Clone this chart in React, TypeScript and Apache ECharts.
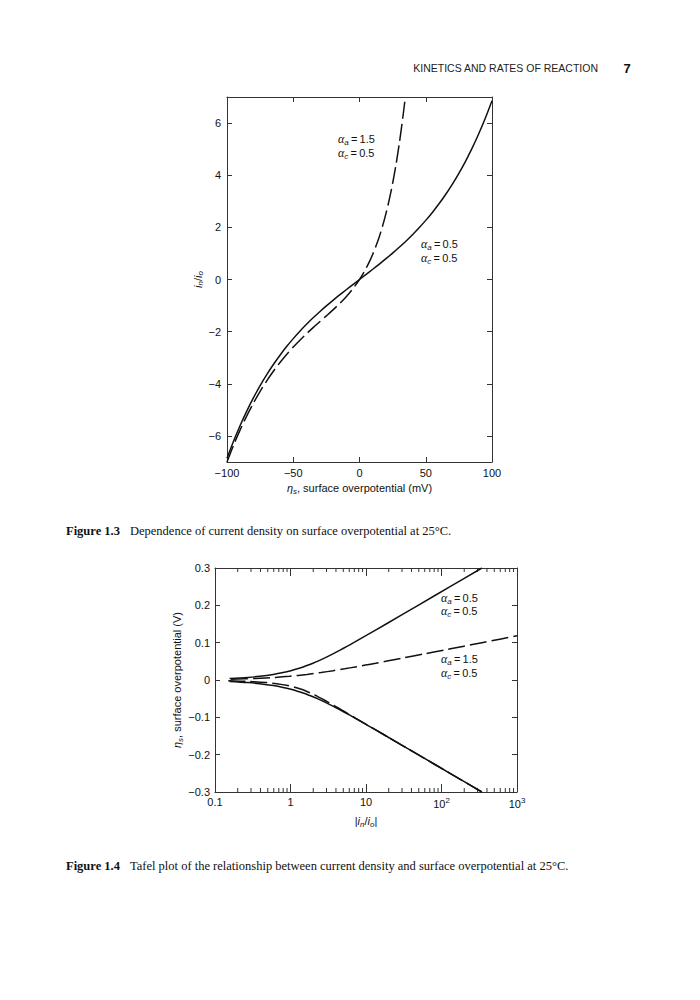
import React, { useEffect, useRef } from "react";
import * as echarts from "echarts";

// ---------- Figure 1.3 data ----------
const etaSym = [-100, -95, -90, -85, -80, -75, -70, -65, -60, -55, -50, -45, -40, -35, -30, -25, -20, -15, -10, -5, 0, 5, 10, 15, 20, 25, 30, 35, 40, 45, 50, 55, 60, 65, 70, 75, 80, 85, 90, 95, 100];
const curSym = [-6.858, -6.194, -5.59, -5.037, -4.533, -4.071, -3.649, -3.261, -2.903, -2.573, -2.268, -1.984, -1.719, -1.47, -1.235, -1.012, -0.798, -0.592, -0.392, -0.195, 0, 0.195, 0.392, 0.592, 0.798, 1.012, 1.235, 1.47, 1.719, 1.984, 2.268, 2.573, 2.903, 3.261, 3.649, 4.071, 4.533, 5.037, 5.59, 6.194, 6.858];
const etaAsym = [-100, -95, -90, -85, -80, -75, -70, -65, -60, -55, -50, -45, -40, -35, -30, -25, -20, -15, -10, -5, 0, 2.5, 5, 7.5, 10, 12.5, 15, 17.5, 20, 22.5, 25, 27.5, 30, 32, 33, 34.6];
const curAsym = [-6.998, -6.348, -5.758, -5.222, -4.735, -4.291, -3.888, -3.52, -3.184, -2.876, -2.592, -2.328, -2.081, -1.846, -1.619, -1.394, -1.165, -0.922, -0.657, -0.355, 0, 0.205, 0.432, 0.685, 0.97, 1.291, 1.653, 2.066, 2.537, 3.074, 3.689, 4.395, 5.205, 5.94, 6.339, 7.0];
const yTicks1 = [-6, -4, -2, 0, 2, 4, 6];

// ---------- Figure 1.4 data ----------
const tafelSymX = [0.156, 0.273, 0.392, 0.592, 0.798, 1.012, 1.235, 1.47, 1.719, 1.984, 2.268, 2.903, 3.649, 4.533, 5.59, 6.858, 10.23, 18.47, 48.98, 129.7, 343.3];
const tafelSymEtaUp = [0.004, 0.007, 0.01, 0.015, 0.02, 0.025, 0.03, 0.035, 0.04, 0.045, 0.05, 0.06, 0.07, 0.08, 0.09, 0.1, 0.12, 0.15, 0.2, 0.25, 0.3];
const tafelSymEtaDown = [-0.004, -0.007, -0.01, -0.015, -0.02, -0.025, -0.03, -0.035, -0.04, -0.045, -0.05, -0.06, -0.07, -0.08, -0.09, -0.1, -0.12, -0.15, -0.2, -0.25, -0.3];
const tafelAsymUpX = [0.162, 0.338, 0.632, 0.97, 1.653, 2.537, 3.689, 5.205, 7.21, 9.87, 13.42, 18.14, 32.9, 59.27, 106.5, 191.2, 343.2, 615.2, 1000];
const tafelAsymUpEta = [0.002, 0.004, 0.007, 0.01, 0.015, 0.02, 0.025, 0.03, 0.035, 0.04, 0.045, 0.05, 0.06, 0.07, 0.08, 0.09, 0.1, 0.11, 0.1183];
const tafelAsymDownX = [0.15, 0.289, 0.481, 0.657, 0.922, 1.165, 1.394, 1.619, 1.846, 2.081, 2.328, 2.592, 3.184, 3.888, 4.735, 5.758, 6.998, 10.33, 18.52, 49.0, 129.7, 343.3];
const tafelAsymDownEta = [-0.002, -0.004, -0.007, -0.01, -0.015, -0.02, -0.025, -0.03, -0.035, -0.04, -0.045, -0.05, -0.06, -0.07, -0.08, -0.09, -0.1, -0.12, -0.15, -0.2, -0.25, -0.3];
const yTicks2 = [-0.3, -0.2, -0.1, 0, 0.1, 0.2, 0.3];
const logLabels = ["0.1", "1", "10", "10{sup|2}", "10{sup|3}"];
const minorTicks = [0.2, 0.3, 0.4, 0.5, 0.6, 0.7, 0.8, 0.9, 2, 3, 4, 5, 6, 7, 8, 9, 20, 30, 40, 50, 60, 70, 80, 90, 200, 300, 400, 500, 600, 700, 800, 900];

const SANS = "'Liberation Sans', Arial, sans-serif";
const SERIF = "'Liberation Serif', 'Times New Roman', serif";
const AX = "#333";
const INK = "#111";

const pairs = (xs: number[], ys: number[]) => xs.map((x, i) => [x, ys[i]]);
const minus = (v: number) => {
  const s = String(Math.round(v * 10) / 10);
  return s.replace("-", "\u2212");
};

const richName = {
  i: { fontStyle: "italic", fontSize: 11, fontFamily: SANS, color: INK },
  sub: { fontStyle: "italic", fontSize: 8, fontFamily: SANS, color: INK, padding: [6, 0, 0, 0] },
  t: { fontSize: 11, fontFamily: SANS, color: INK },
};

const annot = (x: number, y: number, sub: string, val: string) => ({
  type: "text",
  x,
  y,
  style: {
    text: `{a|α}{s|${sub}}{t|\u2009=\u2009${val}}`,
    textVerticalAlign: "middle",
    rich: {
      a: { fontStyle: "italic", fontSize: 12, fontFamily: SERIF, fill: INK },
      s: { fontStyle: "italic", fontSize: 8, fontFamily: SANS, fill: INK, padding: [6, 0, 0, 0] },
      t: { fontSize: 11, fontFamily: SANS, fill: INK },
    },
  },
});

const lineSeries = (xi: number, data: number[][], dashed: boolean) => ({
  type: "line",
  xAxisIndex: xi,
  yAxisIndex: xi,
  data,
  smooth: 0.3,
  showSymbol: false,
  symbol: "none",
  lineStyle: dashed ? { color: INK, width: 1.5, type: [17, 5] } : { color: INK, width: 1.5 },
});

export default function App() {
  const ref = useRef<HTMLDivElement>(null);
  useEffect(() => {
    if (!ref.current) return;
    const chart = echarts.init(ref.current, null, { renderer: "svg" });
    const axisLine = { show: true, onZero: false, lineStyle: { color: AX, width: 1 } };
    const labelStyle = { color: INK, fontFamily: SANS, fontSize: 11 };
    chart.setOption({
      animation: false,
      backgroundColor: "#fff",
      grid: [
        { left: 227, top: 97, width: 265, height: 365 },
        { left: 215, top: 568, width: 302, height: 224 },
      ],
      xAxis: [
        {
          gridIndex: 0, type: "value", min: -100, max: 100, interval: 50, position: "bottom",
          axisLine, axisTick: { inside: true, length: 5, lineStyle: { color: AX } },
          axisLabel: { ...labelStyle, margin: 5, formatter: (v: number) => minus(v) },
          splitLine: { show: false },
          name: "{i|η}{sub|s}{t|, surface overpotential (mV)}", nameLocation: "middle", nameGap: 19,
          nameTextStyle: { rich: richName },
        },
        {
          gridIndex: 0, type: "value", min: -100, max: 100, interval: 50, position: "top",
          axisLine, axisTick: { inside: true, length: 5, lineStyle: { color: AX } },
          axisLabel: { show: false }, splitLine: { show: false },
        },
        {
          gridIndex: 1, type: "log", logBase: 10, min: 0.1, max: 1000, position: "bottom",
          axisLine, axisTick: { inside: true, length: 8, lineStyle: { color: AX } },
          axisLabel: {
            ...labelStyle, margin: 4,
            formatter: (v: number) => logLabels[Math.round(Math.log10(v)) + 1],
            rich: { sup: { fontSize: 8, fontFamily: SANS, color: INK, padding: [0, 0, 7, 0] } },
          },
          splitLine: { show: false }, minorTick: { show: false },
          name: "{t||}{i|i}{sub|n}{t|/}{i|i}{sub|o}{t||}", nameLocation: "middle", nameGap: 22,
          nameTextStyle: { rich: richName },
        },
        {
          gridIndex: 1, type: "log", logBase: 10, min: 0.1, max: 1000, position: "top",
          axisLine, axisTick: { inside: true, length: 8, lineStyle: { color: AX } },
          axisLabel: { show: false }, splitLine: { show: false },
        },
      ],
      yAxis: [
        {
          gridIndex: 0, type: "value", min: -7, max: 7, position: "left",
          axisLine, axisTick: { inside: true, length: 5, customValues: yTicks1, lineStyle: { color: AX } },
          axisLabel: { ...labelStyle, margin: 6, customValues: yTicks1, formatter: (v: number) => minus(v) },
          splitLine: { show: false },
          name: "{i|i}{sub|n}{t|/}{i|i}{sub|o}", nameLocation: "middle", nameGap: 18,
          nameTextStyle: { rich: richName },
        },
        {
          gridIndex: 0, type: "value", min: -7, max: 7, position: "right",
          axisLine, axisTick: { inside: true, length: 5, customValues: yTicks1, lineStyle: { color: AX } },
          axisLabel: { show: false }, splitLine: { show: false },
        },
        {
          gridIndex: 1, type: "value", min: -0.3, max: 0.3, position: "left",
          axisLine, axisTick: { inside: true, length: 5, customValues: yTicks2, lineStyle: { color: AX } },
          axisLabel: { ...labelStyle, margin: 5, customValues: yTicks2, formatter: (v: number) => minus(v) },
          splitLine: { show: false },
          name: "{i|η}{sub|s}{t|, surface overpotential (V)}", nameLocation: "middle", nameGap: 30,
          nameTextStyle: { rich: richName },
        },
        {
          gridIndex: 1, type: "value", min: -0.3, max: 0.3, position: "right",
          axisLine, axisTick: { inside: true, length: 5, customValues: yTicks2, lineStyle: { color: AX } },
          axisLabel: { show: false }, splitLine: { show: false },
        },
      ],
      series: [
        lineSeries(0, pairs(etaSym, curSym), false),
        lineSeries(0, pairs(etaAsym, curAsym), true),
        lineSeries(2, pairs(tafelSymX, tafelSymEtaUp), false),
        lineSeries(2, pairs(tafelSymX, tafelSymEtaDown), false),
        lineSeries(2, pairs(tafelAsymUpX, tafelAsymUpEta), true),
        lineSeries(2, pairs(tafelAsymDownX, tafelAsymDownEta), true),
        {
          type: "custom", xAxisIndex: 2, yAxisIndex: 2, silent: true, clip: false,
          data: minorTicks.map((v) => [v, 0]),
          renderItem: (_p: any, api: any) => {
            const v = api.value(0);
            const b = api.coord([v, -0.3]);
            const t = api.coord([v, 0.3]);
            const st = { stroke: AX, lineWidth: 1 };
            return {
              type: "group",
              children: [
                { type: "line", shape: { x1: b[0], y1: b[1], x2: b[0], y2: b[1] - 4 }, style: st },
                { type: "line", shape: { x1: t[0], y1: t[1], x2: t[0], y2: t[1] + 4 }, style: st },
              ],
            };
          },
        },
      ],
      graphic: [
        {
          type: "text", x: 598, y: 68,
          style: { text: "KINETICS AND RATES OF REACTION", textAlign: "right", textVerticalAlign: "middle", font: `10.5px ${SANS}`, fill: "#222" },
        },
        {
          type: "text", x: 627, y: 68,
          style: { text: "7", textAlign: "center", textVerticalAlign: "middle", font: `bold 13px ${SANS}`, fill: "#111" },
        },
        annot(338, 139, "a", "1.5"),
        annot(338, 153, "c", "0.5"),
        annot(421, 244, "a", "0.5"),
        annot(421, 258, "c", "0.5"),
        annot(441, 598, "a", "0.5"),
        annot(441, 611, "c", "0.5"),
        annot(441, 659, "a", "1.5"),
        annot(441, 673, "c", "0.5"),
        {
          type: "text", x: 66, y: 531,
          style: { text: "Figure 1.3", textVerticalAlign: "middle", font: `bold 12.5px ${SERIF}`, fill: "#111" },
        },
        {
          type: "text", x: 130, y: 531,
          style: { text: "Dependence of current density on surface overpotential at 25\u00B0C.", textVerticalAlign: "middle", font: `12.5px ${SERIF}`, fill: "#111" },
        },
        {
          type: "text", x: 66, y: 866,
          style: { text: "Figure 1.4", textVerticalAlign: "middle", font: `bold 12.5px ${SERIF}`, fill: "#111" },
        },
        {
          type: "text", x: 130, y: 866,
          style: { text: "Tafel plot of the relationship between current density and surface overpotential at 25\u00B0C.", textVerticalAlign: "middle", font: `12.5px ${SERIF}`, fill: "#111" },
        },
      ],
    });
    return () => chart.dispose();
  }, []);
  return <div ref={ref} style={{ position: "absolute", left: 0, top: 0, width: 700, height: 1000, background: "#fff" }} />;
}
